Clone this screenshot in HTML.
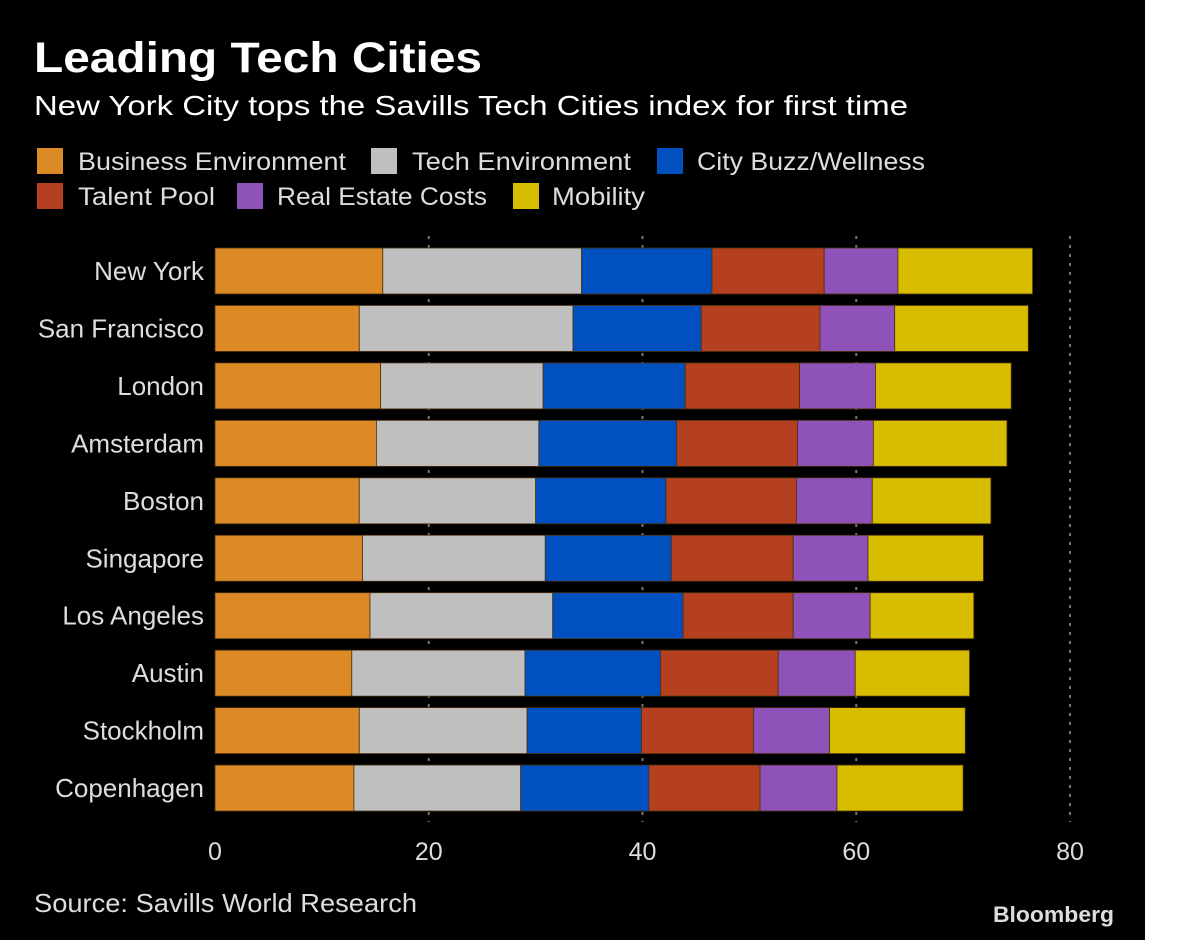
<!DOCTYPE html>
<html><head><meta charset="utf-8"><style>
html,body{margin:0;padding:0;background:#fff;}
svg{display:block;}
text{font-family:"Liberation Sans","DejaVu Sans",sans-serif;}
</style></head><body>
<svg id="chart" width="1200" height="940" xmlns="http://www.w3.org/2000/svg">
<rect x="0" y="0" width="1145" height="940" fill="#000"/>
<text x="34" y="72" font-size="43" font-weight="bold" fill="#fff" textLength="448" lengthAdjust="spacingAndGlyphs">Leading Tech Cities</text>
<text x="34" y="115" font-size="28" fill="#fff" textLength="874" lengthAdjust="spacingAndGlyphs">New York City tops the Savills Tech Cities index for first time</text>
<g id="legend"></g>
<g id="grid"></g>
<g id="bars"></g>
<g id="ylabels"></g>
<g id="xlabels"></g>
<text x="34" y="912" font-size="26" fill="#ddd" textLength="383" lengthAdjust="spacingAndGlyphs">Source: Savills World Research</text>
<text x="993" y="922" font-size="22" font-weight="bold" fill="#ddd" textLength="121" lengthAdjust="spacingAndGlyphs">Bloomberg</text>
</svg>
<script>
const cities = ["New York","San Francisco","London","Amsterdam","Boston","Singapore","Los Angeles","Austin","Stockholm","Copenhagen"];
const seriesNames = ["Business Environment","Tech Environment","City Buzz/Wellness","Talent Pool","Real Estate Costs","Mobility"];
const business = [15.7,13.5,15.5,15.1,13.5,13.8,14.5,12.8,13.5,13.0];
const tech = [18.6,20.0,15.2,15.2,16.5,17.1,17.1,16.2,15.7,15.6];
const buzz = [12.2,12.0,13.3,12.9,12.2,11.8,12.2,12.7,10.7,12.0];
const talent = [10.5,11.1,10.7,11.3,12.2,11.4,10.3,11.0,10.5,10.4];
const realEstate = [6.9,7.0,7.1,7.1,7.1,7.0,7.2,7.2,7.1,7.2];
const mobility = [12.6,12.5,12.7,12.5,11.1,10.8,9.7,10.7,12.7,11.8];
const xTicks = [0,20,40,60,80];
const colors = ["#dc8a25","#bfbfbf","#0050bf","#b5401f","#8f52b8","#d7bc00"];
const series = [business,tech,buzz,talent,realEstate,mobility];
const NS="http://www.w3.org/2000/svg";
function mk(t,a,p){const e=document.createElementNS(NS,t);for(const k in a)e.setAttribute(k,a[k]);p.appendChild(e);return e;}
const x0=215, pxPer=(1070-215)/80;
function xs(v){return x0+v*pxPer;}
function yc(i){return 271+i*57.45;}
const bh=46;
const legPos=[[37,148,78,268],[371,148,412,219],[657,148,697,228],[37,183,78,137],[237,183,277,210],[513,183,552,93]];
const lg=document.getElementById('legend');
seriesNames.forEach((n,i)=>{
  const p=legPos[i];
  const r=mk('rect',{x:p[0],y:p[1],width:26,height:26,fill:colors[i]},lg);
  
  
  const t=mk('text',{x:p[2],y:p[1]+22,'font-size':25,fill:'#ddd',textLength:p[3],lengthAdjust:'spacingAndGlyphs'},lg);
  t.textContent=n;
  
  
});
const g=document.getElementById('grid');
xTicks.forEach(v=>{
  if(v>0){
    const l=mk('line',{x1:xs(v),x2:xs(v),y1:236,y2:822,stroke:'#777','stroke-width':2,'stroke-dasharray':'3,6'},g);
    
    
  }
  const t=mk('text',{x:xs(v),y:860,'font-size':25,fill:'#ddd','text-anchor':'middle'},document.getElementById('xlabels'));
  t.textContent=v;
  
  
});
const bg=document.getElementById('bars');
cities.forEach((c,i)=>{
  let cum=0;
  series.forEach((s,j)=>{
    const a=cum, b=cum+s[i]; cum=b;
    const r=mk('rect',{x:xs(a),y:yc(i)-bh/2,width:xs(b)-xs(a),height:bh,fill:colors[j],stroke:'#4a3010','stroke-width':0.8},bg);
    
    
  });
  const t=mk('text',{x:204,y:yc(i)+9,'font-size':26,fill:'#ddd','text-anchor':'end'},document.getElementById('ylabels'));
  t.textContent=c;
  
  
});
</script>
</body></html>
